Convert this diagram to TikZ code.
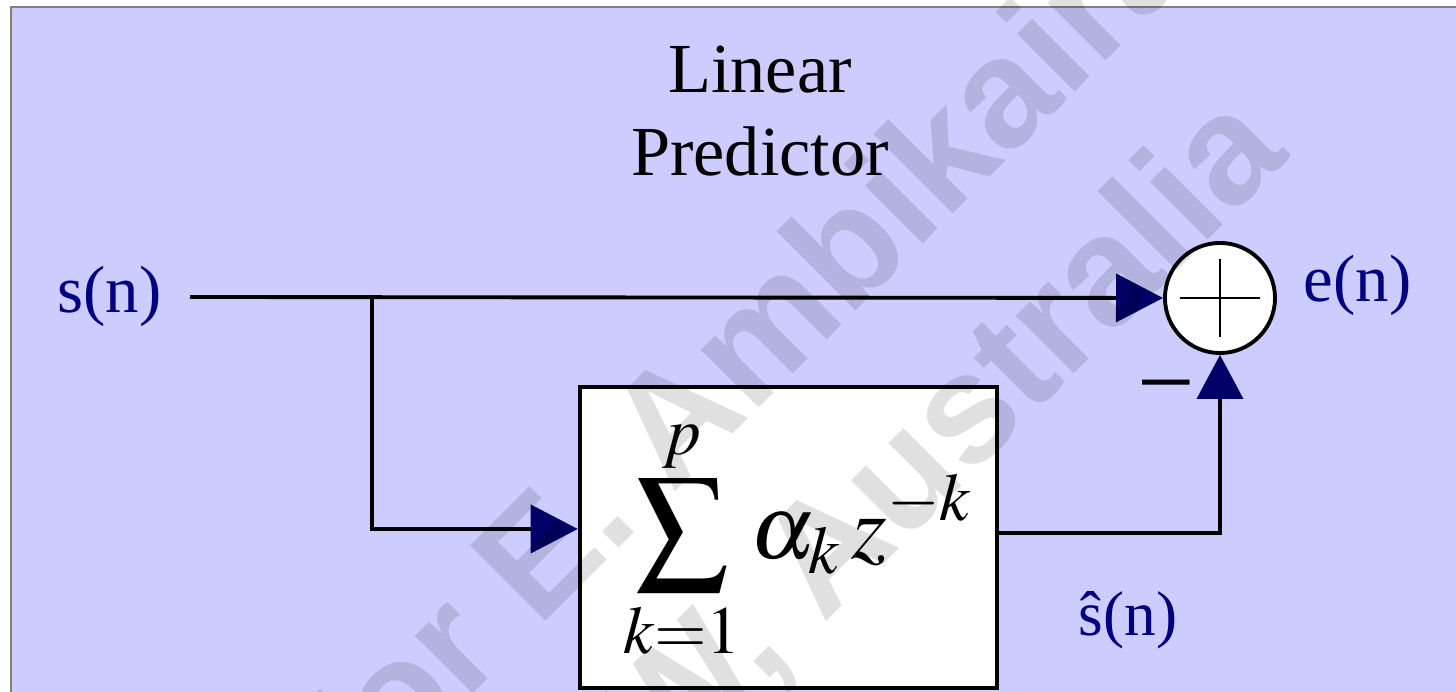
\documentclass[tikz,border=0pt]{standalone}
\usepackage{mathptmx}
\usepackage{fontspec}
\setmainfont{Liberation Serif}
\newfontfamily\wmfont{Liberation Sans}
\usetikzlibrary{arrows.meta}
\definecolor{bglav}{RGB}{204,204,255}
\definecolor{navytxt}{RGB}{0,0,128}
\definecolor{navyarr}{RGB}{0,0,102}
\definecolor{framegrey}{RGB}{128,128,128}
\tikzset{
  wire/.style={line width=1.1pt, black},
  headR/.style={-{Triangle[length=0.47cm,width=0.48cm,color=navyarr]}},
  headU/.style={-{Triangle[length=0.44cm,width=0.46cm,color=navyarr]}},
  lbl/.style={inner sep=0pt, anchor=base west, text=navytxt, font=\fontsize{19}{23}\selectfont},
  sumnode/.style={circle, draw=black, fill=white, line width=1.1pt, minimum size=1.1cm, inner sep=0pt},
  predbox/.style={rectangle, draw=black, fill=white, line width=1.2pt, minimum width=4.17cm, minimum height=3.01cm, inner sep=0pt},
  wmark/.style={rotate=45, anchor=base west, inner sep=0pt, text=black, text opacity=0.12, font=\wmfont\bfseries\fontsize{44}{50}\selectfont}
}
\begin{document}
\begin{tikzpicture}[x=0.01cm, y=-0.01cm]
\clip (0,0) rectangle (1456,692);
\fill[white] (0,0) rectangle (1456,692);
\fill[bglav] (11,8) rectangle (1456,692);
\draw[framegrey, line width=0.6pt] (11,692) -- (11,7) -- (1456,7);

% title
\node[anchor=north, inner sep=0pt, align=center, font=\fontsize{20}{23.6}\selectfont] (title) at (760,45) {Linear\\Predictor};

% nodes
\node[sumnode] (sum) at (1220,298) {};
\draw[line width=0.6pt] ([xshift=-0.4cm]sum.center) -- ([xshift=0.4cm]sum.center);
\draw[line width=0.6pt] ([yshift=0.39cm]sum.center) -- ([yshift=-0.39cm]sum.center);

\node[predbox] (pred) at (788.5,537.5) {};
\node[inner sep=0pt, font=\fontsize{26}{30}\selectfont] (formula) at (798,540) {$\displaystyle\sum_{k=1}^{p}\alpha_{k}\,z^{-k}$};

\node[lbl] (sn) at (57,313) {s(n)};
\node[lbl] (en) at (1303,302) {e(n)};
\node[lbl, font=\fontsize{18}{22}\selectfont] (shat) at (1078,636) {ŝ(n)};
\node[inner sep=0pt, font=\fontsize{29}{34}\selectfont] (minus) at (1166,398) {−};

\coordinate (start) at (190,297);
\coordinate (branch) at (372,297);

% connectors
\draw[wire, headR] (start) -- (sum.west);
\draw[wire, headR] (branch) |- ([yshift=0.085cm]pred.west);
\draw[wire, headU] ([yshift=0.045cm]pred.east) -| (sum.south);

% watermark
\node[wmark] (wm1) at (362,805) {for E. Ambikairajah};
\node[wmark] (wm2) at (434,1014) {UNSW, Australia};
\end{tikzpicture}
\end{document}
